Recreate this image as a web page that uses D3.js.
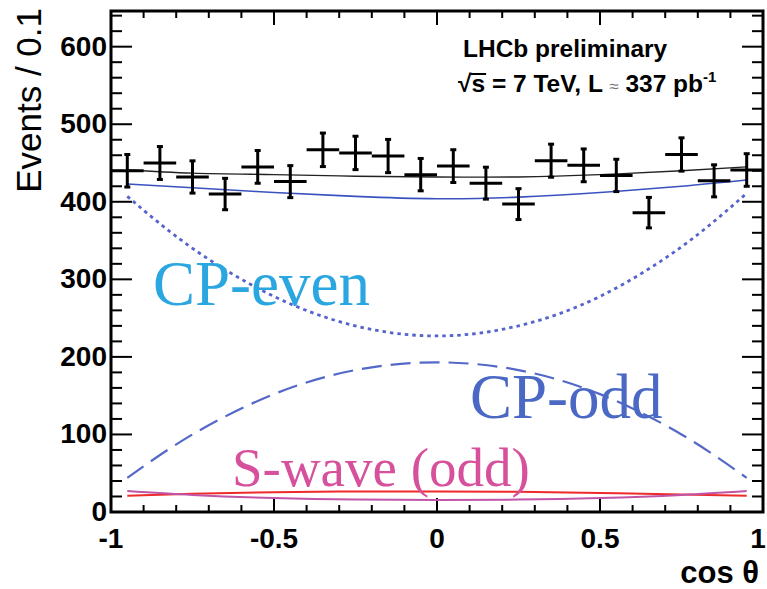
<!DOCTYPE html>
<html>
<head>
<meta charset="utf-8">
<script src="https://cdn.jsdelivr.net/npm/d3@7"></script>
<style>
  body { margin: 0; background: #fff; }
  svg text { font-family: "Liberation Sans", Arial, sans-serif; }
</style>
</head>
<body>
<div id="plot"></div>
<script>
// binned events, 20 bins of width 0.1 in cos(theta)
var binCenters = [-0.95, -0.85, -0.75, -0.65, -0.55, -0.45, -0.35, -0.25, -0.15, -0.05,
                  0.05, 0.15, 0.25, 0.35, 0.45, 0.55, 0.65, 0.75, 0.85, 0.95];
var events = [440, 450, 432, 410, 445, 426, 467, 463, 459, 435,
              446, 424, 397, 453, 447, 434, 386, 461, 427, 441];

// fit projections, sampled along cos(theta)
var curveX   = [-0.95, -0.75, -0.5, -0.25, 0, 0.25, 0.5, 0.75, 0.95];
var totalFit = [441, 437, 435, 433, 432, 432, 435, 440, 445];
var signalFit = [423, 418, 412, 407, 404, 406, 412, 420, 428];
var cpEven   = [407, 340, 278, 240, 227, 240, 278, 342, 411];
var cpOdd    = [44, 100, 152, 183, 193, 183, 152, 100, 44];
var sWave    = [27, 22, 18, 16, 15.5, 16, 18, 22, 27];
var interf   = [21, 23.5, 25.5, 26.5, 26.5, 26, 24.5, 22.5, 21];

var xTicksMajor = [-1, -0.5, 0, 0.5, 1];
var xTickLabels = ["-1", "-0.5", "0", "0.5", "1"];
var yTicksMajor = [0, 100, 200, 300, 400, 500, 600];

var W = 767, H = 589;
var margin = {top: 11, right: 4, bottom: 77, left: 111};

var svg = d3.select("#plot").append("svg")
  .attr("width", W)
  .attr("height", H);

svg.append("rect").attr("width", W).attr("height", H).attr("fill", "#fff");

var x = d3.scaleLinear().domain([-1, 1]).range([margin.left, W - margin.right]);
var y = d3.scaleLinear().domain([0, 646]).range([H - margin.bottom, margin.top]);

var x0 = x(-1), x1 = x(1), y0 = y(0), y1 = y(646);

// tick marks on all four sides
var xMinor = d3.range(-1, 1.0001, 0.1);
var yMinor = d3.range(0, 646, 20);

function isMajorX(v) { return Math.abs(v * 2 - Math.round(v * 2)) < 1e-6; }
function isMajorY(v) { return v % 100 === 0; }

var ticks = svg.append("g").attr("stroke", "#000").attr("stroke-width", 2);

xMinor.forEach(function(v) {
  var len = isMajorX(v) ? 14 : 7;
  ticks.append("line").attr("x1", x(v)).attr("x2", x(v)).attr("y1", y0).attr("y2", y0 - len);
  ticks.append("line").attr("x1", x(v)).attr("x2", x(v)).attr("y1", y1).attr("y2", y1 + len);
});
yMinor.forEach(function(v) {
  var len = isMajorY(v) ? 21 : 11;
  ticks.append("line").attr("y1", y(v)).attr("y2", y(v)).attr("x1", x0).attr("x2", x0 + len);
  ticks.append("line").attr("y1", y(v)).attr("y2", y(v)).attr("x1", x1).attr("x2", x1 - len);
});

// fit curves
var line = d3.line()
  .x(function(d) { return x(d[0]); })
  .y(function(d) { return y(d[1]); })
  .curve(d3.curveNatural);

function pts(vals) { return curveX.map(function(c, i) { return [c, vals[i]]; }); }

svg.append("path").attr("d", line(pts(cpOdd)))
  .attr("fill", "none").attr("stroke", "#5468c8").attr("stroke-width", 2.2)
  .attr("stroke-dasharray", "20,9");
svg.append("path").attr("d", line(pts(cpEven)))
  .attr("fill", "none").attr("stroke", "#5563cc").attr("stroke-width", 2.8)
  .attr("stroke-dasharray", "3.5,4");
svg.append("path").attr("d", line(pts(interf)))
  .attr("fill", "none").attr("stroke", "#ee2a2a").attr("stroke-width", 2);
svg.append("path").attr("d", line(pts(sWave)))
  .attr("fill", "none").attr("stroke", "#c055a8").attr("stroke-width", 2);
svg.append("path").attr("d", line(pts(signalFit)))
  .attr("fill", "none").attr("stroke", "#3a52c0").attr("stroke-width", 1.6);
svg.append("path").attr("d", line(pts(totalFit)))
  .attr("fill", "none").attr("stroke", "#222").attr("stroke-width", 1.4);

// data points with errors
var pts_g = svg.append("g").attr("stroke", "#000").attr("stroke-width", 3);
binCenters.forEach(function(c, i) {
  var n = events[i], e = Math.sqrt(n);
  pts_g.append("line").attr("x1", x(c - 0.05)).attr("x2", x(c + 0.05)).attr("y1", y(n)).attr("y2", y(n));
  pts_g.append("line").attr("x1", x(c)).attr("x2", x(c)).attr("y1", y(n - e)).attr("y2", y(n + e));
  pts_g.append("line").attr("x1", x(c) - 3).attr("x2", x(c) + 3).attr("y1", y(n - e)).attr("y2", y(n - e));
  pts_g.append("line").attr("x1", x(c) - 3).attr("x2", x(c) + 3).attr("y1", y(n + e)).attr("y2", y(n + e));
});

// frame
svg.append("rect")
  .attr("x", x0).attr("y", y1)
  .attr("width", x1 - x0).attr("height", y0 - y1)
  .attr("fill", "none").attr("stroke", "#000").attr("stroke-width", 3);

// tick labels
svg.selectAll(".ylab").data(yTicksMajor).enter().append("text")
  .attr("x", x0 - 4).attr("y", function(d) { return y(d) + 9; })
  .attr("text-anchor", "end").attr("font-size", 28).attr("font-weight", "bold")
  .text(function(d) { return d; });

svg.selectAll(".xlab").data(xTicksMajor).enter().append("text")
  .attr("x", function(d) { return Math.min(x(d), W - 9); }).attr("y", y0 + 36)
  .attr("text-anchor", "middle").attr("font-size", 28).attr("font-weight", "bold")
  .text(function(d, i) { return xTickLabels[i]; });

// axis titles
svg.append("text")
  .attr("transform", "translate(41,8) rotate(-90)")
  .attr("text-anchor", "end").attr("font-size", 35)
  .text("Events / 0.1");

svg.append("text")
  .attr("x", 759).attr("y", 583)
  .attr("text-anchor", "end").attr("font-size", 31).attr("font-weight", "bold")
  .text("cos \u03b8");

// experiment label
svg.append("text")
  .attr("x", 463).attr("y", 57)
  .attr("font-size", 24.5).attr("font-weight", "bold")
  .text("LHCb preliminary");

var info = svg.append("text")
  .attr("x", 458).attr("y", 92)
  .attr("font-size", 24.5).attr("font-weight", "bold");
info.append("tspan").text("\u221a");
info.append("tspan").text("s = 7 TeV, L ");
info.append("tspan").attr("font-size", 17).attr("fill", "#777").attr("font-weight", "normal").text("\u2248");
info.append("tspan").text(" 337 pb");
info.append("tspan").attr("font-size", 15).attr("dy", -10).text("-1");

// overline across the s under the root sign
var sx0 = info.node().getStartPositionOfChar(1).x;
var sx1 = info.node().getEndPositionOfChar(1).x;
svg.append("line").attr("x1", sx0 - 1).attr("x2", sx1 + 1).attr("y1", 74).attr("y2", 74)
  .attr("stroke", "#000").attr("stroke-width", 2);

// component labels
function label(txt, px, py, col, fs) {
  svg.append("text").attr("x", px).attr("y", py)
    .style("font-family", "'Liberation Serif', 'Times New Roman', serif")
    .attr("font-size", fs).attr("fill", col).text(txt);
}
label("CP-even", 153, 305, "#2aa6e0", 63);
label("CP-odd", 470, 418, "#4a68c4", 63);
label("S-wave (odd)", 232, 486, "#d6509c", 55);
</script>
</body>
</html>
